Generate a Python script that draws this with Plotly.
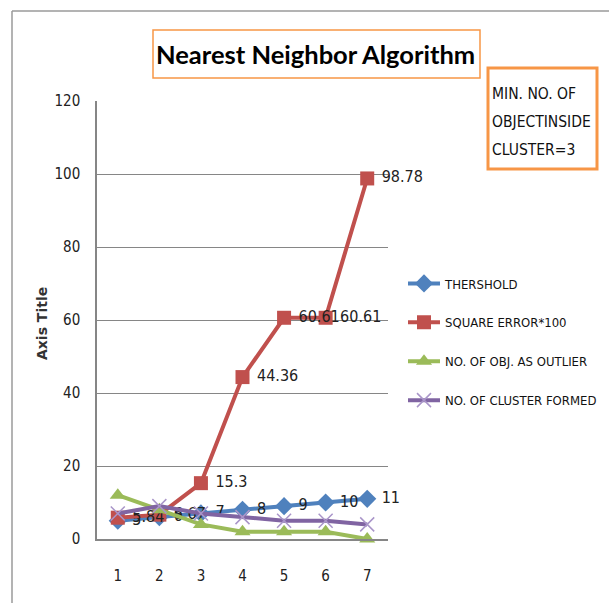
import plotly.graph_objects as go

# Data
runs = [1, 2, 3, 4, 5, 6, 7]
threshold = [5, 6, 7, 8, 9, 10, 11]
square_error_x100 = [5.84, 6.67, 15.3, 44.36, 60.61, 60.61, 98.78]
outliers = [12, 8, 4, 2, 2, 2, 0]
clusters = [7, 9, 7, 6, 5, 5, 4]
y_ticks = [0, 20, 40, 60, 80, 100, 120]

W, H = 609, 603
L, R, T, B = 97, 388, 101, 539      # plot frame in pixels


def px_x(p):
    return (p - L) / (R - L)


def px_y(p):
    return (B - p) / (B - T)


FONT = "DejaVu Sans Condensed, Liberation Sans Narrow, Roboto, sans-serif"
label_font = dict(family=FONT, size=16, color="#222222")
GAP = "\u2004"  # small spacer between a marker and its value label


def value_labels(values):
    return [GAP + f"{v:g}" for v in values]


fig = go.Figure()

fig.add_trace(go.Scatter(
    x=runs, y=threshold, name="THERSHOLD", legendgroup="a",
    mode="lines+markers+text", text=value_labels(threshold),
    textposition="middle right", textfont=label_font, cliponaxis=False,
    line=dict(color="#4F81BD", width=4),
    marker=dict(symbol="diamond", size=14, color="#4F81BD"),
))
fig.add_trace(go.Scatter(
    x=runs, y=square_error_x100, name="SQUARE ERROR*100", legendgroup="b",
    mode="lines+markers+text", text=value_labels(square_error_x100),
    textposition="middle right", textfont=label_font, cliponaxis=False,
    line=dict(color="#C0504D", width=4),
    marker=dict(symbol="square", size=14, color="#C0504D"),
))
fig.add_trace(go.Scatter(
    x=runs, y=outliers, name="NO. OF OBJ. AS OUTLIER", legendgroup="c",
    mode="lines+markers", cliponaxis=False,
    line=dict(color="#9BBB59", width=4),
    marker=dict(symbol="triangle-up", size=14, color="#9BBB59"),
))
fig.add_trace(go.Scatter(
    x=runs, y=clusters, name="NO. OF CLUSTER FORMED", legendgroup="d",
    mode="lines+markers", cliponaxis=False,
    line=dict(color="#8064A2", width=4),
    marker=dict(symbol="x-thin-open", size=14, color="#A995C9",
                line=dict(width=1.5, color="#A995C9")),
))

border = dict(color="#9A9A9A", width=1.5)
shapes = [
    # outer chart border: top and left edges
    dict(type="line", xref="paper", yref="paper",
         x0=px_x(12), x1=px_x(W + 5), y0=px_y(11), y1=px_y(11), line=border, layer="below"),
    dict(type="line", xref="paper", yref="paper",
         x0=px_x(12), x1=px_x(12), y0=px_y(11), y1=px_y(H + 5), line=border, layer="below"),
    # title box
    dict(type="rect", xref="paper", yref="paper",
         x0=px_x(153), x1=px_x(480), y0=px_y(78), y1=px_y(30),
         line=dict(color="#F79646", width=1.5), fillcolor="white"),
    # note box
    dict(type="rect", xref="paper", yref="paper",
         x0=px_x(488), x1=px_x(597), y0=px_y(169), y1=px_y(68),
         line=dict(color="#F79646", width=3), fillcolor="white"),
]

annotations = [
    dict(text="<b>Nearest Neighbor Algorithm</b>", xref="paper", yref="paper",
         x=px_x(315), y=px_y(54), xanchor="center", yanchor="middle",
         showarrow=False,
         font=dict(family="Lato, Noto Sans, sans-serif", size=25.5, color="black")),
    dict(text="<b>Axis Title</b>", xref="paper", yref="paper",
         x=px_x(42), y=px_y(324), xanchor="center", yanchor="middle",
         textangle=-90, showarrow=False,
         font=dict(family="DejaVu Sans, sans-serif", size=14, color="#333333")),
]
for line_text, py in [("MIN. NO. OF", 94), ("OBJECTINSIDE", 122), ("CLUSTER=3", 150)]:
    annotations.append(dict(
        text=line_text, xref="paper", yref="paper",
        x=px_x(490), y=px_y(py), xanchor="left", yanchor="middle",
        showarrow=False, font=dict(family=FONT, size=15.5, color="#111111")))

fig.update_layout(
    width=W, height=H,
    margin=dict(l=L, r=W - R, t=T, b=H - B),
    paper_bgcolor="white", plot_bgcolor="white",
    showlegend=True,
    legend=dict(xref="container", yref="container",
                x=403 / W, y=1 - 342 / H, xanchor="left", yanchor="middle",
                font=dict(family=FONT, size=13, color="#111111"),
                tracegroupgap=19, itemwidth=32, bgcolor="rgba(0,0,0,0)"),
    shapes=shapes, annotations=annotations,
    xaxis=dict(range=[0.5, 7.5], tickvals=runs, ticktext=[str(r) for r in runs],
               showgrid=False, zeroline=False, showline=True,
               linecolor="#868686", linewidth=1.5, ticks="", ticklabelstandoff=22,
               tickfont=dict(family=FONT, size=15, color="#222222"),
               fixedrange=True),
    yaxis=dict(range=[0, 120], tickvals=y_ticks,
               showgrid=True, gridcolor="#868686", gridwidth=1.2,
               zeroline=False, showline=True, linecolor="#868686", linewidth=1.5,
               ticks="", ticklabelstandoff=12,
               tickfont=dict(family=FONT, size=15, color="#222222"),
               fixedrange=True),
)

fig.write_html("out.html")
